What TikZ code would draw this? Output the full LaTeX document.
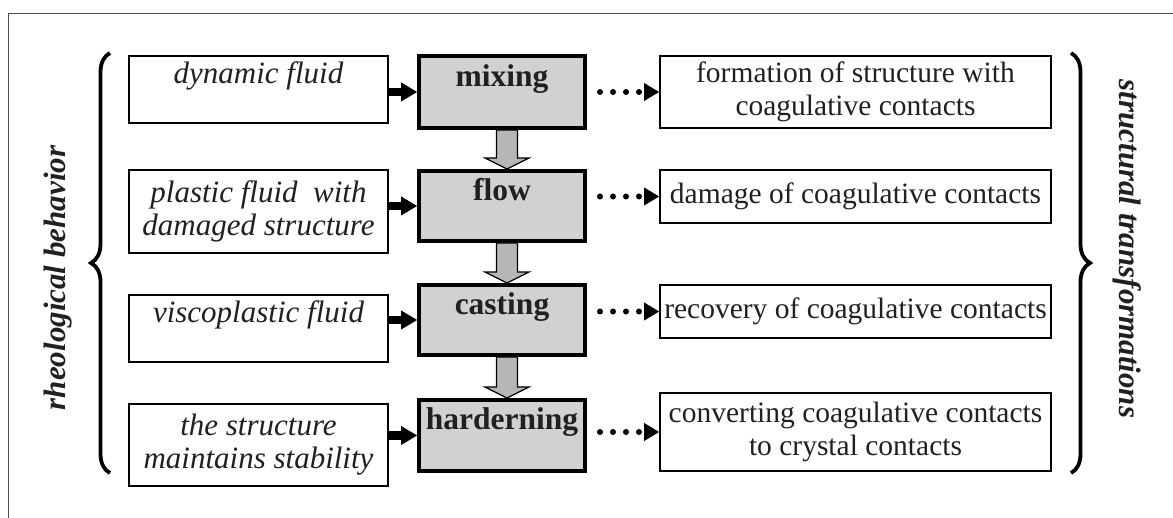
\documentclass[tikz,border=0pt]{standalone}
\usepackage{fontspec}
\setmainfont{Liberation Serif}
\usetikzlibrary{arrows.meta,decorations.pathreplacing}

\definecolor{stagegrey}{HTML}{D0D1D1}
\definecolor{shaftgrey}{HTML}{B5B7B7}
\definecolor{inkgrey}{HTML}{231F20}

\tikzset{
  fluidbox/.style={shape=rectangle,draw=black,line width=1.6pt,minimum width=259.4pt,inner sep=2pt,align=center,text=inkgrey,font=\fontsize{31}{33}\selectfont\itshape},
  stagebox/.style={shape=rectangle,draw=black,line width=3.6pt,fill=stagegrey,minimum width=166.4pt,inner sep=2pt,align=center,text=inkgrey,font=\fontsize{31.5}{33}\selectfont\bfseries},
  changebox/.style={shape=rectangle,draw=black,line width=1.6pt,minimum width=391.4pt,inner sep=2pt,align=center,text=inkgrey,font=\fontsize{29.5}{33}\selectfont},
  sidelabel/.style={text=inkgrey,font=\fontsize{31}{33}\selectfont\bfseries\itshape},
  feed/.style={line width=8.5pt,-{Triangle[width=19pt,length=16pt,line width=0.4pt]}},
  dotfeed/.style={line width=6pt,dash pattern=on 0pt off 13pt,line cap=round,shorten <=13pt,-{Triangle[width=18pt,length=15pt,line width=0.4pt]}},
  stepdown/.style={draw=black,line width=1.3pt,fill=shaftgrey},
  curly/.style={decorate,decoration={brace,amplitude=19pt},line width=3.8pt}
}

\begin{document}
\begin{tikzpicture}[x=1pt,y=1pt]
\useasboundingbox (0,0) rectangle (1173,518);
\clip (0,0) rectangle (1173,518);

%outer frame, cut off by the page edge
\draw [line width=1pt,black!70] (8.5,504) rectangle (1190,-20);

%draw rheological behavior boxes
\node [fluidbox,minimum height=67.4pt] at (258.5,428.5) (lb1) {dynamic fluid\\\mbox{}};
\node [fluidbox,minimum height=83.4pt] at (258.5,306.5) (lb2) {plastic fluid\ \ with\\damaged structure};
\node [fluidbox,minimum height=67.4pt] at (258.5,189.5) (lb3) {viscoplastic fluid\\\mbox{}};
\node [fluidbox,minimum height=82.4pt] at (258.5,73) (lb4) {the structure\\maintains stability};

%draw stage boxes
\node [stagebox,minimum height=72.4pt] at (502,426) (gb1) {mixing\\\mbox{}};
\node [stagebox,minimum height=70.4pt] at (502,312) (gb2) {flow\\\mbox{}};
\node [stagebox,minimum height=70.4pt] at (502,198) (gb3) {casting\\\mbox{}};
\node [stagebox,minimum height=71.4pt] at (502,82.5) (gb4) {harderning\\\mbox{}};

%grey arrows between the stages
\foreach \a/\b in {gb1/gb2,gb2/gb3,gb3/gb4} {
  \draw [stepdown] ([xshift=-5.5pt]\a.south) -- ([xshift=-5.5pt,yshift=11pt]\b.north)
    -- ([xshift=-17pt,yshift=11pt]\b.north) -- ([xshift=5pt]\b.north)
    -- ([xshift=27pt,yshift=11pt]\b.north) -- ([xshift=15.5pt,yshift=11pt]\b.north)
    -- ([xshift=15.5pt]\a.south) -- cycle;
}

%draw structural transformation boxes
\node [changebox,minimum height=72.4pt] at (855.5,426) (rb1) {formation of structure with\\coagulative contacts};
\node [changebox,minimum height=53.4pt] at (855.5,321.5) (rb2) {damage of coagulative contacts};
\node [changebox,minimum height=53.4pt] at (855.5,206.5) (rb3) {recovery of coagulative contacts};
\node [changebox,minimum height=78.4pt] at (855.5,86) (rb4) {converting coagulative contacts\\to crystal contacts};

%arrows into and out of each stage
\foreach \i in {1,...,4} {
  \draw [feed] (gb\i.west -| lb\i.east) -- (gb\i.west);
  \draw [dotfeed] (rb\i.west -| gb\i.east) -- (rb\i.west);
}

%braces and side labels
\draw [curly] (110,45) -- (110,465);
\draw [curly] (1071,465) -- (1071,45);
\node [sidelabel,rotate=90] at (58,240) (rheo) {rheological behavior};
\node [sidelabel,rotate=-90] at (1127,269) (struct) {structural transformations};
\end{tikzpicture}
\end{document}
